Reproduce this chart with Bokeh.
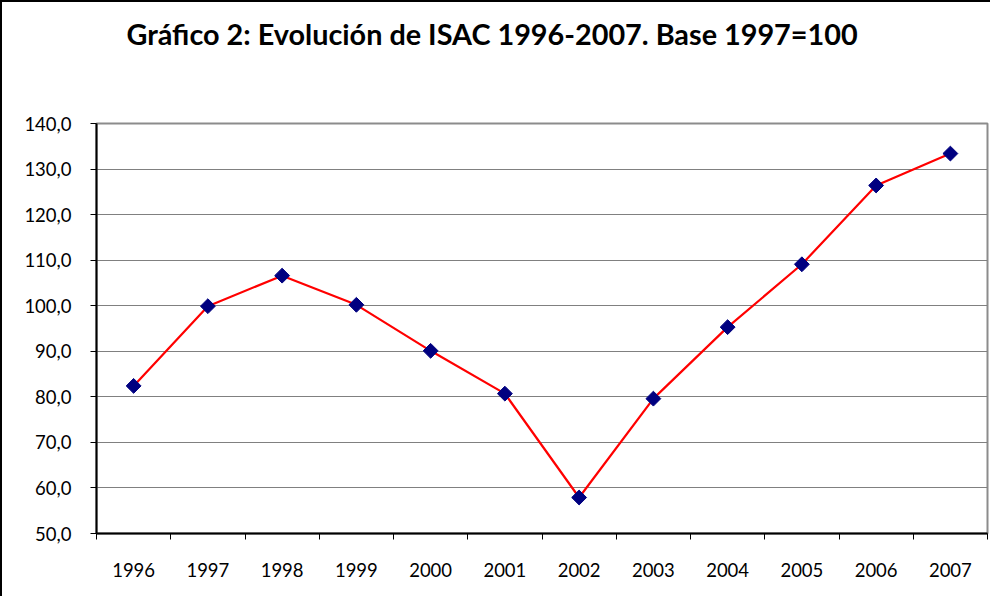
from bokeh.plotting import figure
from bokeh.models import FixedTicker, Range1d, Title, ColumnDataSource
from bokeh.embed import file_html
from bokeh.resources import INLINE

years = ["1996", "1997", "1998", "1999", "2000", "2001", "2002", "2003", "2004", "2005", "2006", "2007"]
isac = [82.4, 99.9, 106.6, 100.2, 90.1, 80.7, 57.9, 79.6, 95.3, 109.1, 126.4, 133.4]
y_ticks = [50, 60, 70, 80, 90, 100, 110, 120, 130, 140]
title_text = "Gráfico 2: Evolución de ISAC 1996-2007. Base 1997=100"

FONT = "Lato"

xpos = [i + 0.5 for i in range(len(years))]
src = ColumnDataSource(dict(x=xpos, y=isac, year=years))

p = figure(width=990, height=596, output_backend="svg", toolbar_location=None,
           x_range=Range1d(0, len(years)), y_range=Range1d(50, 140),
           min_border_left=94, min_border_right=5, min_border_top=121, min_border_bottom=65)
p.styles = {"border-left": "2px solid black", "border-top": "2px solid black"}

spacer = Title(text=" ", text_font_size="10px", standoff=58, align="left")
p.add_layout(spacer, "above")
p.add_layout(Title(text=title_text, align="left", offset=30, vertical_align="top", standoff=0,
                   text_font=FONT, text_font_style="bold", text_font_size="28.8px",
                   text_color="black"), "above")

p.outline_line_color = "#8c8c8c"
p.outline_line_width = 2
p.background_fill_color = "white"
p.border_fill_color = "white"

# y axis
p.yaxis.ticker = FixedTicker(ticks=y_ticks)
p.yaxis.major_label_overrides = {t: f"{t:.1f}".replace(".", ",") for t in y_ticks}
p.yaxis.axis_line_color = "black"
p.yaxis.axis_line_width = 2
p.yaxis.major_tick_out = 6
p.yaxis.major_tick_in = 0
p.yaxis.major_tick_line_color = "black"
p.yaxis.minor_tick_line_color = None
p.yaxis.major_label_standoff = 19
p.yaxis.major_label_text_font = FONT
p.yaxis.major_label_text_font_size = "18.5px"
p.yaxis.major_label_text_color = "black"

# x axis: labels at category centres, ticks at boundaries
p.xaxis.ticker = FixedTicker(ticks=xpos, minor_ticks=list(range(len(years) + 1)))
p.xaxis.major_label_overrides = {x: y for x, y in zip(xpos, years)}
p.xaxis.axis_line_color = "black"
p.xaxis.axis_line_width = 2
p.xaxis.major_tick_out = 0
p.xaxis.major_tick_in = 0
p.xaxis.minor_tick_out = 6
p.xaxis.minor_tick_in = 0
p.xaxis.minor_tick_line_color = "black"
p.xaxis.major_label_standoff = 23
p.xaxis.major_label_text_font = FONT
p.xaxis.major_label_text_font_size = "18.5px"
p.xaxis.major_label_text_color = "black"

p.xgrid.grid_line_color = None
p.ygrid.ticker = FixedTicker(ticks=y_ticks)
p.ygrid.grid_line_color = "#808080"
p.ygrid.grid_line_width = 1

p.line("x", "y", source=src, line_color="#ff0000", line_width=2.2)
p.scatter("x", "y", source=src, marker="square", size=10.5, angle=0.785398,
          fill_color="#000080", line_color="#000080")

open("out.html", "w").write(file_html(p, INLINE))
